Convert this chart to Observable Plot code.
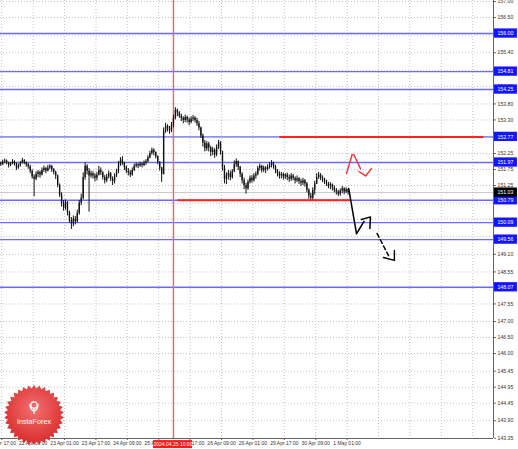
<!DOCTYPE html>
<html><head><meta charset="utf-8">
<script src="https://cdn.jsdelivr.net/npm/d3@7"></script>
<script src="https://cdn.jsdelivr.net/npm/@observablehq/plot@0.6"></script>
<style>
body{margin:0;background:#fff;overflow:hidden}
#wrap{position:relative;width:518px;height:449px}
#logo{position:absolute;left:3px;top:384px}
</style></head><body><div id="wrap"></div>
<script>
// ---- data (H1 bars, USDJPY) ----
const open0 = 151.98;
const close = [151.95,151.90,151.98,152.02,151.96,151.88,151.92,151.99,151.94,151.80,151.86,151.95,152.03,151.96,151.90,151.84,
151.70,151.52,151.45,151.60,
151.66,151.58,151.72,151.78,151.70,151.80,151.85,151.74,151.66,151.55,
151.25,150.95,150.70,
150.55,150.72,150.40,150.15,150.05,150.20,150.12,150.38,
150.70,150.85,
151.50,151.85,151.70,151.55,
151.62,151.55,151.48,151.58,151.72,151.65,151.50,151.40,151.52,151.62,151.45,151.38,151.55,151.68,
151.90,152.05,151.96,
151.82,151.70,151.66,151.58,151.72,
151.85,151.90,151.86,151.92,151.88,151.95,152.00,
152.12,152.25,152.35,152.28,152.15,
151.98,151.80,151.60,
152.95,153.10,153.02,152.95,153.12,
153.35,153.60,153.52,
153.42,153.35,153.28,153.38,153.30,153.22,153.32,153.36,153.28,153.18,153.05,
152.80,152.58,152.40,152.55,
152.42,152.28,152.35,152.20,152.45,152.60,152.30,
151.80,151.45,151.55,
151.62,151.50,151.68,
151.90,152.00,151.82,
151.60,151.40,151.25,151.15,
151.35,151.48,151.40,151.55,151.60,
151.78,151.85,151.72,151.80,151.75,151.82,151.88,151.95,151.85,151.72,
151.62,151.55,151.60,151.52,151.58,
151.50,151.45,151.55,151.48,151.40,151.46,151.38,151.32,151.40,151.30,
151.10,150.92,150.85,151.10,151.30,
151.50,151.58,151.48,151.42,151.36,
151.30,151.22,151.28,151.18,151.10,
151.05,150.98,151.08,151.15,151.05,151.12,151.03];
const high = [152.02,151.98,152.04,152.08,152.05,151.98,151.97,152.06,152.02,151.96,151.92,152.00,152.10,152.06,151.99,151.94,
151.88,151.74,151.58,151.68,
151.72,151.70,151.80,151.86,151.82,151.88,151.90,151.88,151.78,151.70,
151.58,151.30,151.02,
150.78,150.80,150.75,150.45,150.25,150.30,150.28,150.48,
150.78,150.98,
151.65,151.96,151.90,151.78,
151.70,151.68,151.62,151.66,151.85,151.80,151.68,151.56,151.60,151.70,151.66,151.52,151.62,151.76,
152.00,152.12,152.15,
151.98,151.86,151.78,151.72,151.80,
151.92,151.96,151.94,151.98,151.96,152.02,152.06,
152.18,152.32,152.42,152.40,152.30,
152.18,152.00,151.82,
153.05,153.20,153.15,153.10,153.22,
153.45,153.68,153.64,
153.56,153.48,153.40,153.45,153.42,153.36,153.40,153.44,153.40,153.35,153.25,
153.08,152.86,152.66,152.62,
152.60,152.48,152.44,152.40,152.52,152.66,152.62,
152.32,151.88,151.65,
151.72,151.70,151.75,
152.02,152.08,152.02,
151.85,151.65,151.48,151.32,
151.42,151.55,151.56,151.62,151.68,
151.85,151.92,151.88,151.86,151.84,151.90,151.96,152.03,151.98,151.88,
151.75,151.68,151.66,151.64,151.62,
151.64,151.58,151.62,151.60,151.52,151.55,151.50,151.45,151.48,151.44,
151.35,151.15,151.00,151.18,151.38,
151.62,151.66,151.62,151.55,151.48,
151.42,151.35,151.34,151.30,151.24,
151.16,151.10,151.14,151.22,151.18,151.18,151.14];
const low = [151.88,151.85,151.88,151.94,151.90,151.80,151.84,151.90,151.86,151.72,151.76,151.83,151.92,151.90,151.82,151.76,
151.62,151.45,150.90,151.40,
151.50,151.48,151.55,151.66,151.62,151.68,151.74,151.66,151.58,151.44,
151.18,150.88,150.58,
150.45,150.48,150.30,150.08,149.88,149.96,150.02,150.08,
150.32,150.62,
150.80,151.42,151.58,150.42,
151.48,151.45,151.36,151.40,151.55,151.56,151.42,151.30,151.34,151.46,151.38,151.25,151.30,151.50,
151.62,151.85,151.88,
151.72,151.62,151.55,151.50,151.54,
151.68,151.80,151.78,151.82,151.80,151.84,151.88,
151.96,152.08,152.20,152.18,152.08,
151.90,151.70,151.35,
151.58,152.88,152.92,152.85,152.90,
153.05,153.30,153.40,
153.35,153.25,153.18,153.22,153.20,153.12,153.18,153.25,153.20,153.10,152.96,
152.72,152.45,152.30,152.32,
152.30,152.15,152.18,152.10,152.15,152.38,152.20,
151.70,151.30,151.28,
151.42,151.40,151.45,
151.65,151.82,151.72,
151.50,151.30,151.12,150.98,
151.10,151.30,151.32,151.36,151.45,
151.55,151.70,151.64,151.66,151.62,151.70,151.76,151.80,151.76,151.62,
151.52,151.45,151.46,151.42,151.44,
151.40,151.35,151.38,151.40,151.30,151.34,151.28,151.22,151.25,151.20,
151.02,150.82,150.75,150.76,150.95,
151.28,151.44,151.40,151.34,151.28,
151.22,151.15,151.12,151.08,151.02,
150.95,150.90,150.92,151.00,150.96,151.00,150.95];

// time axis
const timeLabels = ["21 Apr 17:00","22 Apr 09:00","23 Apr 01:00","23 Apr 17:00","24 Apr 09:00","25 Apr 01:00","25 Apr 17:00","26 Apr 09:00","29 Apr 01:00","29 Apr 17:00","30 Apr 09:00","1 May 01:00"];
const timeTickBars = [1.5,17.5,33.5,49.5,65.5,81.5,97.5,113.5,129.5,145.5,161.5,177.5];
const gridBars = [1.5,17.5,33.5,49.5,65.5,81.5,97.5,113.5,129.5,145.5,161.5,177.5,193.5,209.5,225.5,241.5];
const markerBar = 89; const markerLabel = "2024.04.25 10:00";

// price axis
const gridPrices = [157.00,156.50,155.95,155.40,154.85,154.35,153.80,153.30,152.75,152.25,151.75,151.25,150.70,150.20,149.65,149.10,148.55,148.05,147.55,147.00,146.50,146.00,145.45,144.95,144.45,143.90,143.35];
const priceLabels = [157.00,156.50,155.40,154.35,153.80,153.30,152.25,151.75,151.25,149.10,148.55,147.55,147.00,146.50,146.00,145.45,144.95,144.45,143.90,143.35];
const levels = [156.00,154.81,154.25,152.77,151.97,150.79,150.09,149.56,148.07];
const bid = 151.03;

// analyst drawings (bar index, price)
const redSegments = [{b1:143,b2:247,p:152.77},{b1:91,b2:179.2,p:150.79}];
const redPath = [
 {b:177.2,p:151.63,g:1},{b:180.1,p:152.22,g:1},
 {b:180.9,p:152.22,g:2},{b:184.3,p:151.78,g:2},
 {b:183.5,p:151.69,g:3},{b:186.9,p:151.55,g:3},{b:189.9,p:151.78,g:3}];
const blackPath = [
 {b:178.3,p:151.16,g:1},{b:182.3,p:149.74,g:1},{b:186.1,p:150.13,g:1},
 {b:184.8,p:150.19,g:2},{b:189.4,p:150.27,g:2},{b:189.1,p:149.91,g:2}];
const blackDash = [{b:192.8,p:149.75},{b:198.6,p:149.06}];
const blackHead = [{b:196.0,p:149.00},{b:201.6,p:148.91},{b:201.6,p:149.22}];

// ---- build ----
const bars = close.map((c,i)=>{const o = i ? close[i-1] : open0;
  return {i, o, c, h: Math.max(high[i],o,c), l: Math.min(low[i],o,c)};});
const xDom = [0.87, 252.1], yDom = [143.345, 157.0325];
const boxX1 = 252.6, boxX2 = 264.3, boxTX = 254.1, boxH = 0.145;
const FONT = "Liberation Sans, Arial, sans-serif";

const boxes = levels.map(p=>({p, t:p.toFixed(2), f:"#1414ff"})).concat([{p:bid, t:bid.toFixed(2), f:"#000"}]);

const chart = Plot.plot({
  width: 518, height: 449, marginLeft: 0, marginRight: 25, marginTop: 0, marginBottom: 11,
  style: {fontFamily: FONT, background: "#fff", overflow: "visible"},
  x: {type: "linear", domain: xDom, axis: null},
  y: {domain: yDom, axis: null},
  marks: [
    Plot.ruleY(gridPrices, {stroke: "#c4c4c4", strokeDasharray: "1,2"}),
    Plot.ruleX(gridBars, {stroke: "#c4c4c4", strokeDasharray: "1,2"}),
    Plot.ruleY([bid], {stroke: "#c8c8c8"}),
    Plot.ruleY(levels, {stroke: "#6a6aff", strokeWidth: 1.4}),
    Plot.ruleX([markerBar], {stroke: "#ff5c5c", strokeWidth: 1.4}),
    Plot.ruleX(bars, {x: "i", y1: "l", y2: "h", stroke: "#111", strokeWidth: 1}),
    Plot.ruleX(bars, {x: "i", y1: "o", y2: "c", stroke: "#111", strokeWidth: 1.35}),
    Plot.link(redSegments, {x1: "b1", x2: "b2", y1: "p", y2: "p", stroke: "#ff2222", strokeWidth: 2}),
    Plot.line(redPath, {x: "b", y: "p", z: "g", stroke: "#ff2a2a", strokeWidth: 1.4}),
    Plot.line(blackPath, {x: "b", y: "p", z: "g", stroke: "#000", strokeWidth: 1.5}),
    Plot.line(blackDash, {x: "b", y: "p", stroke: "#000", strokeWidth: 1.5, strokeDasharray: "4,3"}),
    Plot.line(blackHead, {x: "b", y: "p", stroke: "#000", strokeWidth: 1.4}),
    Plot.ruleX([xDom[1]], {stroke: "#666"}),
    Plot.ruleY([yDom[0]], {stroke: "#666"}),
    Plot.axisY(priceLabels, {anchor: "right", tickSize: 2, tickPadding: 2, fontSize: 5.2,
      tickFormat: d => d.toFixed(2), stroke: "#666", fill: "#333", textAnchor: "start"}),
    Plot.axisX(timeTickBars, {anchor: "bottom", tickSize: 2, tickPadding: 1, fontSize: 5,
      tickFormat: d => timeLabels[timeTickBars.indexOf(d)], stroke: "#666", fill: "#333"}),
    Plot.rect(boxes, {x1: boxX1, x2: boxX2, y1: d => d.p - boxH, y2: d => d.p + boxH, fill: "f"}),
    Plot.text(boxes, {x: boxTX, y: "p", text: "t", fill: "#fff", fontSize: 5.2, textAnchor: "start"}),
    Plot.rect([markerLabel], {x1: 78.8, x2: 98.7, y1: 143.03, y2: 143.28, fill: "#ff1a1a"}),
    Plot.text([markerLabel], {x: 88.75, y: 143.155, text: d => d, fill: "#fff", fontSize: 5})
  ]
});
document.getElementById("wrap").appendChild(chart);

// InstaForex badge (decorative)
const logo = d3.select("#wrap").append("svg").attr("id","logo").attr("width",62).attr("height",62);
const grad = logo.append("defs").append("radialGradient").attr("id","lg").attr("cx","50%").attr("cy","40%").attr("r","60%");
grad.append("stop").attr("offset","0%").attr("stop-color","#f47070");
grad.append("stop").attr("offset","100%").attr("stop-color","#d82a2a");
const teeth = 34, cx = 31, cy = 31, rO = 30, rI = 26.5;
const pts = d3.range(teeth*2).map(k => {const a = k*Math.PI/teeth; const r = k%2 ? rI : rO; return [cx + r*Math.sin(a), cy - r*Math.cos(a)];});
logo.append("path").attr("d","M"+pts.join("L")+"Z").attr("fill","url(#lg)");
const ic = logo.append("g").attr("stroke","#fff").attr("fill","none").attr("stroke-width",1.3);
ic.append("circle").attr("cx",cx).attr("cy",21).attr("r",3.2);
ic.append("path").attr("d",`M${cx-4},20 Q${cx-4},26 ${cx},27 Q${cx+4},26 ${cx+4},20 M${cx},24 L${cx},30`);
logo.append("text").attr("x",cx).attr("y",40).attr("text-anchor","middle").attr("fill","#fff")
  .attr("font-family",FONT).attr("font-size",7.2).text("InstaForex");
</script>
</body></html>
